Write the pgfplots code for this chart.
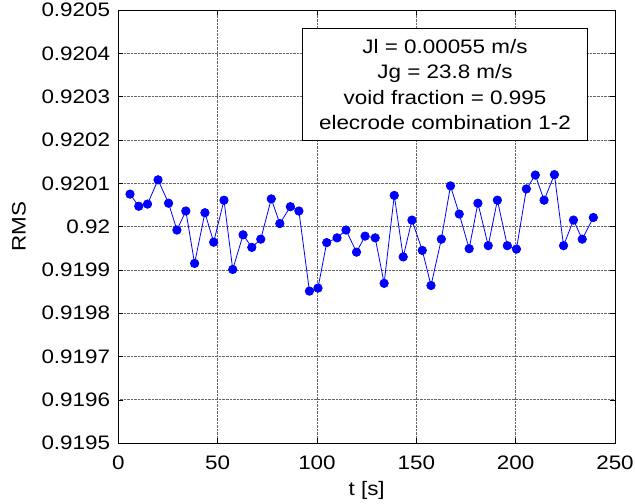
\documentclass[border=0pt]{standalone}
\usepackage{pgfplots}
\pgfplotsset{compat=1.18}
\usepackage{fontspec}
\setmainfont{Liberation Sans}[FakeStretch=1.15]
\begin{document}
\fontsize{19.5bp}{23bp}\selectfont
\begin{tikzpicture}
\useasboundingbox (-118.3bp,-60bp) rectangle (516.7bp,443.1bp);
\begin{axis}[
  scale only axis,
  width=496.7bp, height=433bp,
  xmin=0, xmax=250, ymin=0.9195, ymax=0.9205,
  xtick={0,50,100,150,200,250},
  ytick={0.9195,0.9196,0.9197,0.9198,0.9199,0.92,0.9201,0.9202,0.9203,0.9204,0.9205},
  yticklabels={0.9195,0.9196,0.9197,0.9198,0.9199,0.92,0.9201,0.9202,0.9203,0.9204,0.9205},
  scaled y ticks=false,
  /pgf/number format/assume math mode=true,
  tick align=inside,
  major tick length=5bp,
  tick style={black, line width=0.6bp},
  axis line style={black, line width=1bp},
  grid=major,
  major grid style={black!60, densely dotted, line width=0.7bp},
  xlabel={t [s]}, ylabel={RMS},
  xlabel style={at={(axis description cs:0.5,-0.1085)}, anchor=center},
  ylabel style={at={(axis description cs:-0.1999,0.5)}, anchor=center},
  xticklabel style={yshift=-6bp},
  yticklabel style={xshift=-1.5bp},
  clip=false,
]
\addplot[blue, line width=0.8bp, mark=*, mark size=4.2bp, mark options={fill=blue, draw=blue}] table {
t v
5.9 0.920075
10.3 0.920047
14.7 0.920052
20.0 0.920108
25.3 0.920054
29.5 0.919992
34.0 0.920036
38.4 0.919915
43.6 0.920032
48.0 0.919964
53.2 0.920061
57.6 0.919901
62.8 0.919981
67.2 0.919952
71.7 0.919971
77.0 0.920064
81.3 0.920007
86.6 0.920046
90.9 0.920036
96.2 0.919851
100.5 0.919858
104.9 0.919963
110.1 0.919974
114.6 0.919992
119.9 0.919941
124.2 0.919978
129.3 0.919974
133.8 0.919869
138.9 0.920072
143.4 0.919930
147.8 0.920015
153.0 0.919945
157.4 0.919864
162.6 0.919971
167.2 0.920094
171.6 0.920029
176.6 0.919949
181.0 0.920054
186.2 0.919956
190.8 0.920061
195.8 0.919956
200.4 0.919948
205.4 0.920087
209.9 0.920119
214.3 0.920061
219.5 0.920120
224.1 0.919956
229.1 0.920015
233.5 0.919971
239.1 0.920021
};
\node[draw=black, line width=0.8bp, fill=white, minimum width=284.6bp, minimum height=112.4bp, align=center, inner sep=0pt, font=\fontsize{19.5bp}{25.5bp}\selectfont] at (rel axis cs:0.6577,0.8279) {Jl = 0.00055 m/s\\Jg = 23.8 m/s\\void fraction = 0.995\\elecrode combination 1-2};
\end{axis}
\end{tikzpicture}
\end{document}
